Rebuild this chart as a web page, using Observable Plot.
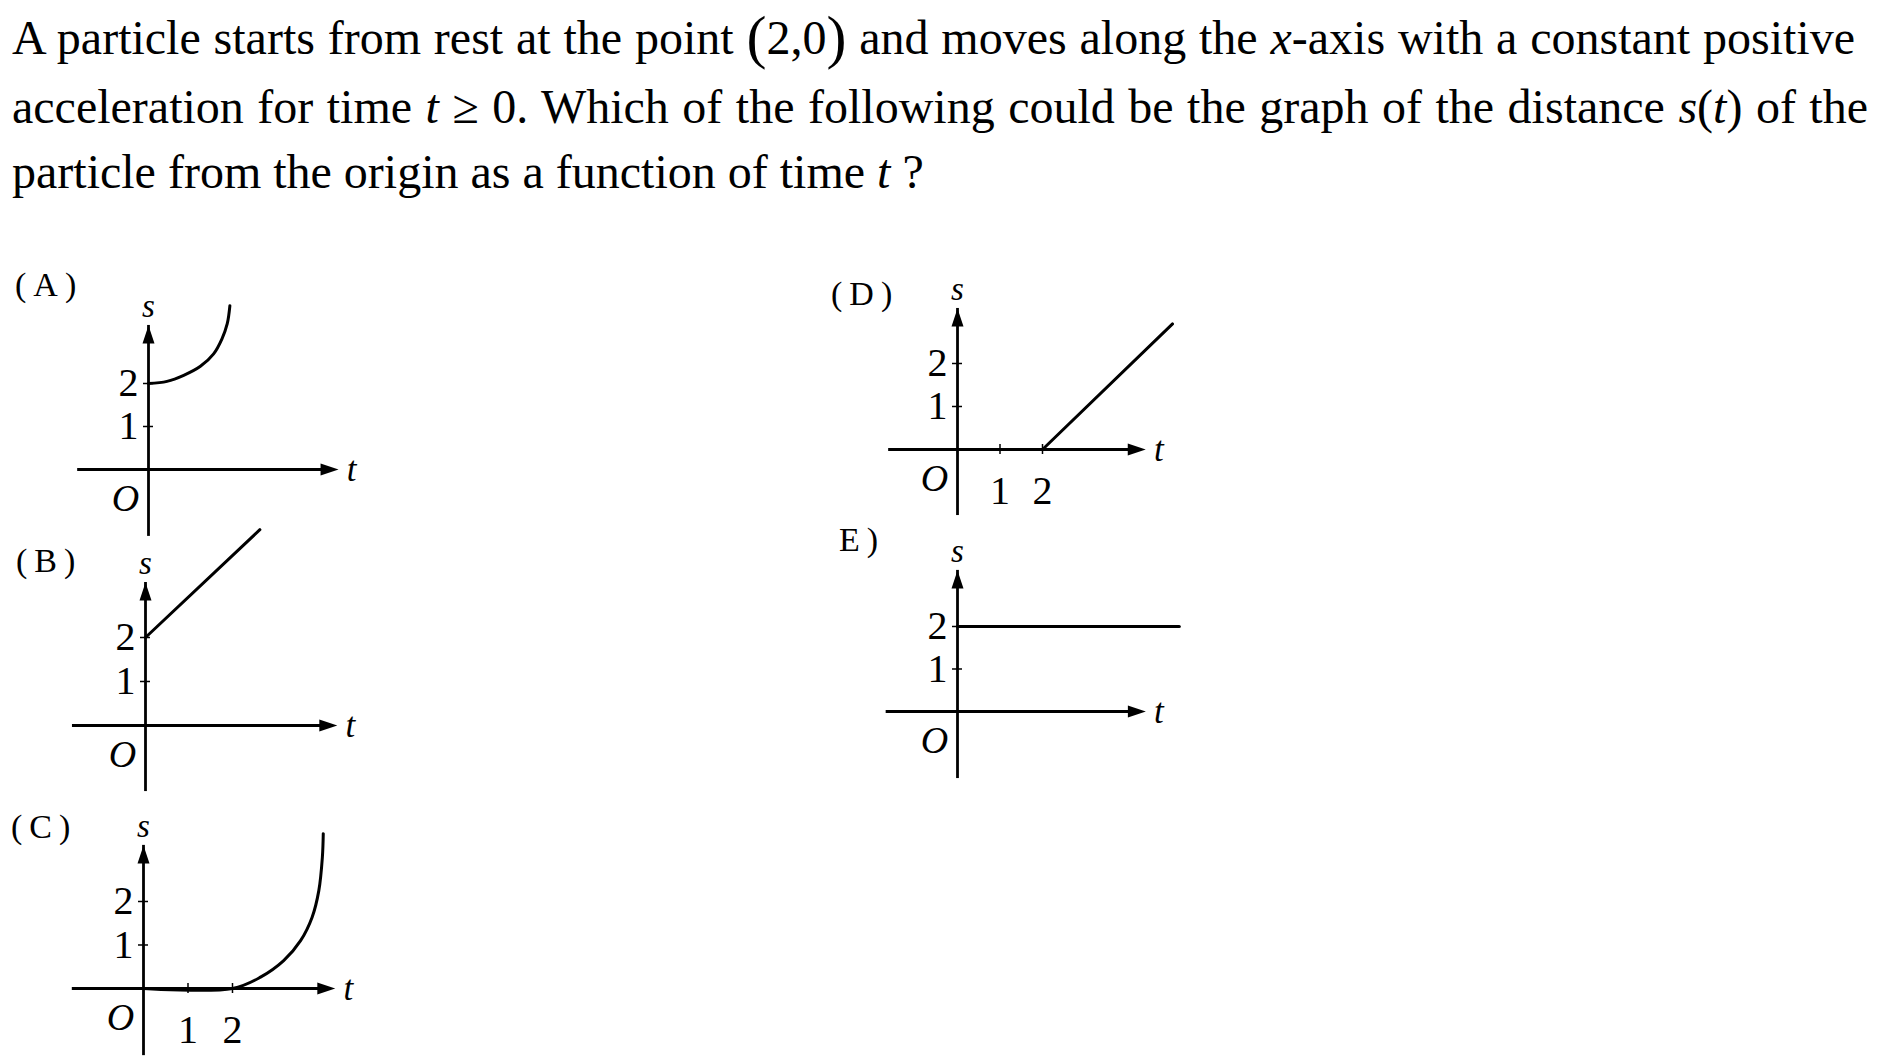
<!DOCTYPE html>
<html><head><meta charset="utf-8">
<script src="https://cdn.jsdelivr.net/npm/d3@7"></script>
<script src="https://cdn.jsdelivr.net/npm/@observablehq/plot@0.6"></script>
<style>
html,body{margin:0;padding:0;background:#fff}
body{width:1886px;height:1058px;position:relative;overflow:hidden;font-family:"Liberation Serif","Times New Roman",serif;color:#000}
.tl{position:absolute;left:12px;font-size:48px;line-height:65px;height:65px;white-space:nowrap}
.just{text-align:justify;text-align-last:justify;white-space:normal;overflow:hidden}
.i{font-style:italic}
.big{font-size:1.25em;line-height:0;vertical-align:-0.05em}
.panel{position:absolute}
.plabel{position:absolute;font-size:34px;letter-spacing:7px;line-height:34px;white-space:nowrap}
</style></head><body>
<div class="tl just" style="top:5px;width:1843px">A particle starts from rest at the point <span class="big">(</span>2,0<span class="big">)</span> and moves along the <span class="i">x</span>-axis with a constant positive</div>
<div class="tl just" style="top:74px;width:1856px">acceleration for time <span class="i">t</span> ≥ 0. Which of the following could be the graph of the distance <span class="i">s</span>(<span class="i">t</span>) of the</div>
<div class="tl" style="top:139px">particle from the origin as a function of time <span class="i">t</span> ?</div>
<script>
// ---- data ----
const panelNames = ["(A)", "(B)", "(C)", "(D)", "E)"];
const sTickValues = [1, 2];
const tTickValuesC = [1, 2];
const tTickValuesD = [1, 2];
const tTickValuesNone = [];

const curveA_t = [0, 0.42, 0.80, 1.18, 1.48, 1.67, 1.79, 1.85];
const curveA_s = [2.0, 2.05, 2.19, 2.40, 2.69, 3.04, 3.39, 3.81];

const lineB_t = [0, 2.6];
const lineB_s = [2, 4.45];

const curveC_t = [0, 2.0, 2.63, 3.15, 3.53, 3.79, 3.94, 4.02, 4.04];
const curveC_s = [0, 0, 0.26, 0.64, 1.10, 1.64, 2.25, 3.02, 3.56];

const lineD_t = [0, 2, 5.06];
const lineD_s = [0, 0, 2.92];

const lineE_t = [0, 5.1];
const lineE_s = [2, 2];

// axis extents (data units) per panel
const axisT_min = [-1.61, -1.66, -1.60, -1.62, -1.64];
const axisT_max = [4.32, 4.36, 4.31, 4.43, 4.33];
const axisS_min = [-1.37, -1.32, -1.36, -1.35, -1.39];
const axisS_max = [3.35, 3.25, 3.29, 3.28, 3.32];

// ---- layout (page pixels) ----
const layout = [
  {ox: 148,   oy: 469, ux: 44,   uy: 43,   lx: 15,  ly: 285},
  {ox: 145,   oy: 725, ux: 44,   uy: 44,   lx: 16,  ly: 561},
  {ox: 143,   oy: 988, ux: 44.5, uy: 43.5, lx: 11,  ly: 827},
  {ox: 956.7, oy: 449, ux: 42.5, uy: 43,   lx: 831, ly: 294},
  {ox: 956.7, oy: 711, ux: 43.5, uy: 42.5, lx: 839, ly: 540}
];

const series = [
  {t: curveA_t, s: curveA_s, curve: "catmull-rom", ticks: tTickValuesNone},
  {t: lineB_t,  s: lineB_s,  curve: "linear",      ticks: tTickValuesNone},
  {t: curveC_t, s: curveC_s, curve: "catmull-rom", ticks: tTickValuesC},
  {t: lineD_t,  s: lineD_s,  curve: "linear",      ticks: tTickValuesD},
  {t: lineE_t,  s: lineE_s,  curve: "linear",      ticks: tTickValuesNone}
];

const arrowUp = {draw(ctx, size) { const r = Math.sqrt(size / Math.PI); ctx.moveTo(0, 0); ctx.lineTo(r, 3 * r); ctx.lineTo(-r, 3 * r); ctx.closePath(); }};
const arrowRight = {draw(ctx, size) { const r = Math.sqrt(size / Math.PI); ctx.moveTo(0, 0); ctx.lineTo(-3 * r, -r); ctx.lineTo(-3 * r, r); ctx.closePath(); }};

const X0 = -2, X1 = 5.6, Y0 = -1.8, Y1 = 4.0;
const font = "'Liberation Serif', 'Times New Roman', serif";

panelNames.forEach((name, i) => {
  const L = layout[i], S = series[i];
  const pts = S.t.map((t, k) => ({t, s: S.s[k]}));
  const W = (X1 - X0) * L.ux, H = (Y1 - Y0) * L.uy;
  const plot = Plot.plot({
    width: W, height: H,
    marginLeft: 0, marginRight: 0, marginTop: 0, marginBottom: 0,
    x: {domain: [X0, X1], axis: null},
    y: {domain: [Y0, Y1], axis: null},
    style: {background: "transparent", overflow: "visible", fontFamily: font, color: "black"},
    marks: [
      Plot.ruleY([0], {x1: axisT_min[i], x2: axisT_max[i], stroke: "black", strokeWidth: 2.8, insetRight: 8}),
      Plot.ruleX([0], {y1: axisS_min[i], y2: axisS_max[i], stroke: "black", strokeWidth: 2.8, insetTop: 8}),
      Plot.dot([{t: axisT_max[i], s: 0}], {x: "t", y: "s", symbol: arrowRight, r: 6, fill: "black", stroke: "none"}),
      Plot.dot([{t: 0, s: axisS_max[i]}], {x: "t", y: "s", symbol: arrowUp, r: 6, fill: "black", stroke: "none"}),
      Plot.ruleY(sTickValues, {x1: 0, x2: 0, y: d => d, insetLeft: -5, insetRight: -5, stroke: "black", strokeWidth: 1.5}),
      Plot.ruleX(S.ticks, {y1: 0, y2: 0, x: d => d, insetTop: -5, insetBottom: -5, stroke: "black", strokeWidth: 1.5}),
      Plot.text(sTickValues, {x: 0, y: d => d, text: d => String(d), textAnchor: "end", dx: -10, fontSize: 40, fontFamily: font}),
      Plot.text(S.ticks, {x: d => d, y: 0, text: d => String(d), dy: 42, fontSize: 40, fontFamily: font}),
      Plot.text(["O"], {x: 0, y: 0, text: d => d, dx: -23, dy: 29, fontSize: 38, fontStyle: "italic", fontFamily: font}),
      Plot.text(["s"], {x: 0, y: axisS_max[i], text: d => d, dy: -19, fontSize: 33, fontStyle: "italic", fontFamily: font}),
      Plot.text(["t"], {x: axisT_max[i], y: 0, text: d => d, dx: 13, fontSize: 35, fontStyle: "italic", fontFamily: font}),
      Plot.line(pts, {x: "t", y: "s", curve: S.curve, stroke: "black", strokeWidth: 3})
    ]
  });
  const div = document.createElement("div");
  div.className = "panel";
  div.style.left = (L.ox - (0 - X0) * L.ux) + "px";
  div.style.top = (L.oy - (Y1 - 0) * L.uy) + "px";
  div.appendChild(plot);
  document.body.appendChild(div);

  const lab = document.createElement("div");
  lab.className = "plabel";
  lab.style.left = L.lx + "px";
  lab.style.top = (L.ly - 17) + "px";
  lab.textContent = name;
  document.body.appendChild(lab);
});
</script>
</body></html>
